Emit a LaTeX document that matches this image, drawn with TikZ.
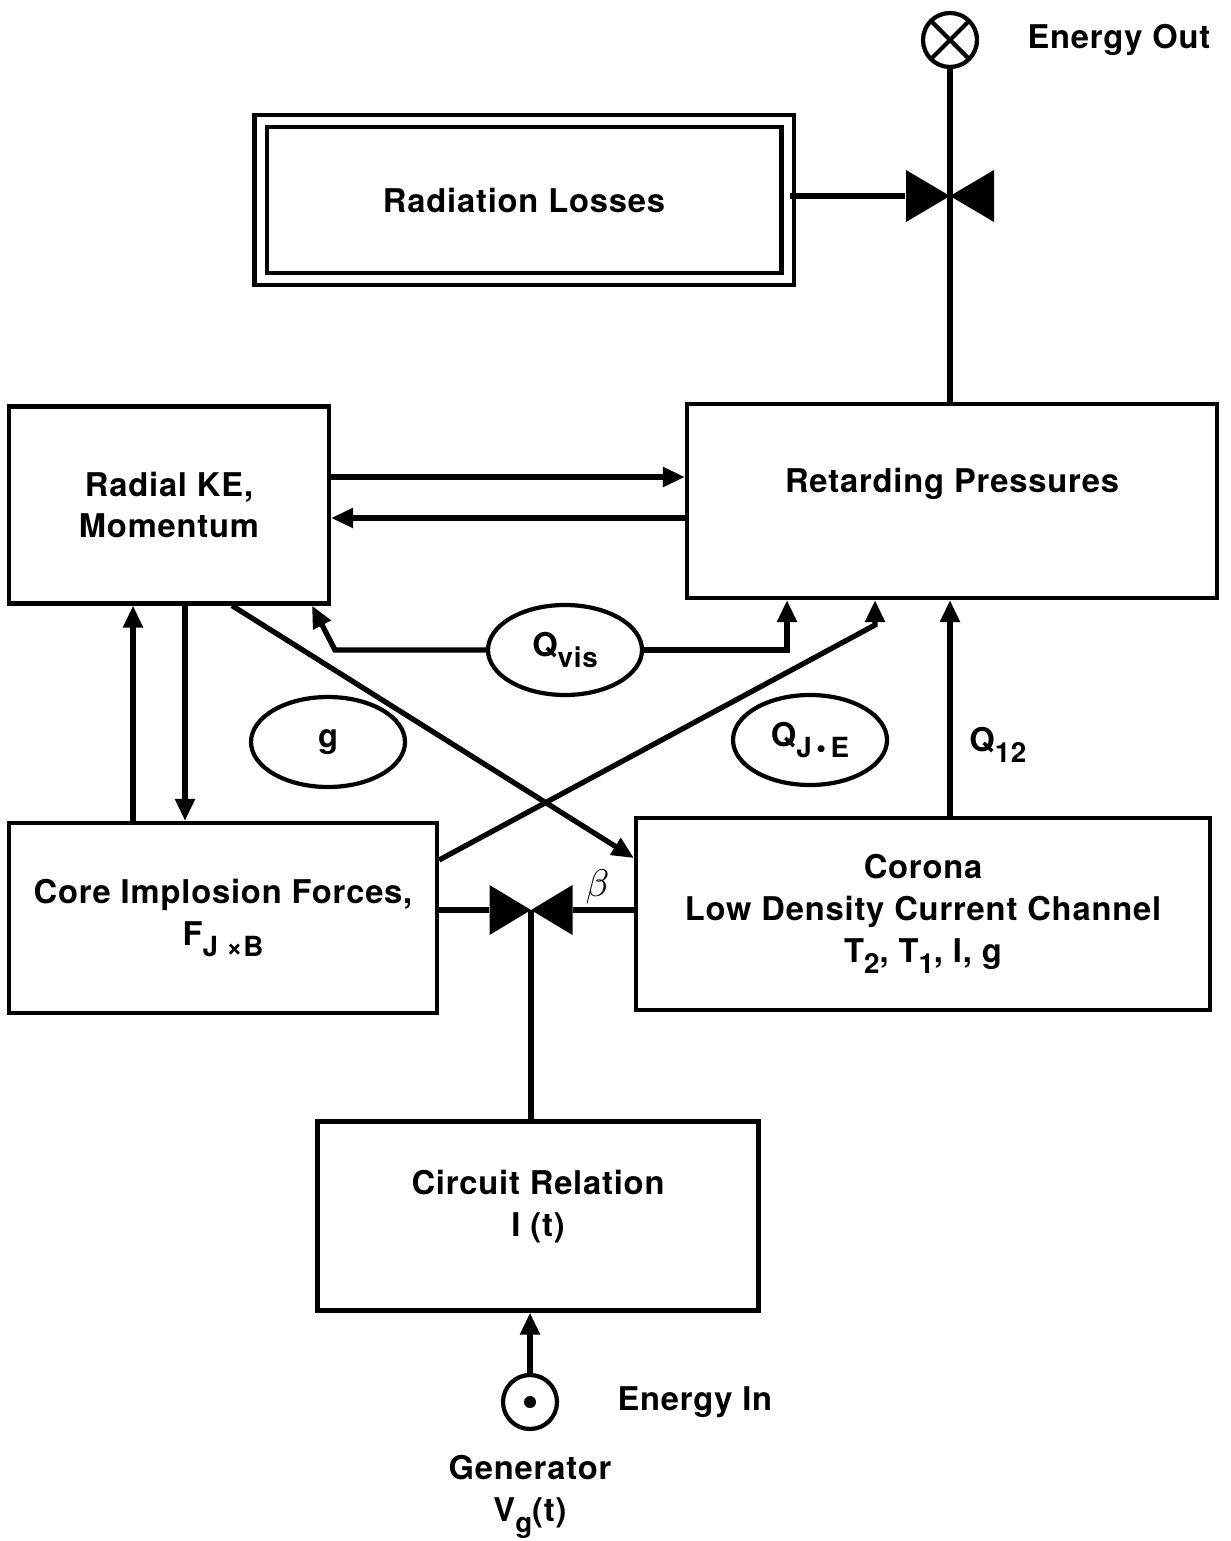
\documentclass[tikz,border=0pt]{standalone}
\usepackage{fontspec}
\setmainfont[LetterSpace=2.5]{TeX Gyre Heros}
\usetikzlibrary{positioning}
\usetikzlibrary{arrows.meta}
\usetikzlibrary{shapes.geometric}

\newcommand{\lowsub}[1]{\raisebox{-3.2pt}{\fontsize{7.9}{7.9}\selectfont #1}}

\begin{document}
\begin{tikzpicture}[
        x=0.1mm, y=-0.1mm,
        every node/.style={font=\bfseries\fontsize{9.3}{11.9}\selectfont, align=center},
        block/.style={rectangle, draw, line width=1.2pt},
        bubble/.style={ellipse, draw, line width=1.2pt, minimum width=15.4mm, minimum height=9mm, inner sep=0pt},
        valve/.style={rectangle, inner sep=0pt, minimum width=8.8mm, minimum height=5.2mm,
            path picture={\fill (path picture bounding box.south west) -- (path picture bounding box.north east)
                -- (path picture bounding box.south east) -- (path picture bounding box.north west) -- cycle;}},
        port/.style={circle, draw, line width=1.2pt, minimum size=5.4mm, inner sep=0pt},
        flow/.style={line width=1.5pt},
        arrow style/.style={-{Triangle[length=2.2mm, width=1.9mm]}, line width=1.5pt}
    ]

    \useasboundingbox (0,0) rectangle (1230,1541);

    % top: losses and energy out
    \node[block, double, double distance=0.8mm, minimum width=52.7mm, minimum height=15.8mm] (rad) at (524,200) {Radiation Losses};
    \node[port, path picture={\draw[line width=1.2pt] (path picture bounding box.south west) -- (path picture bounding box.north east)
        (path picture bounding box.north west) -- (path picture bounding box.south east);}] (eout) at (950,40) {};
    \node[right=3.6mm of eout] (eoutlbl) {Energy Out};
    \node[valve] (vout) at (950,196) {};

    % middle blocks
    \node[block, minimum width=53mm, minimum height=19.4mm] (ret) at (952,501) {Retarding Pressures\\ \mbox{}};
    \node[block, minimum width=32mm, minimum height=19.7mm] (radial) at (169,505) {Radial KE,\\Momentum};
    \node[bubble] (qvis) at (565,650) {Q\lowsub{vis}};
    \node[bubble] (grav) at (328,742) {g};
    \node[bubble] (qje) at (810,740) {Q\lowsub{J\,\textbullet\,E}};
    \node[block, minimum width=42.8mm, minimum height=19mm] (core) at (223,918) {Core Implosion Forces,\\F\lowsub{J ×B}};
    \node[block, minimum width=57.4mm, minimum height=19.2mm] (corona) at (923,914) {Corona\\Low Density Current Channel\\T\lowsub{2}, T\lowsub{1}, I, g};
    \node[valve, minimum width=8.3mm, minimum height=5mm] (vmid) at (531,910) {};

    % bottom: circuit and generator
    \node[block, minimum width=44.1mm, minimum height=18.9mm] (circuit) at (538,1216) {Circuit Relation\\I (t)\\[-1.6mm] \mbox{}};
    \node[port, path picture={\fill (path picture bounding box.center) circle (0.6mm);}] (gen) at (530,1402) {};
    \node[right=4.6mm of gen] (genin) {Energy In};
    \node[below=1.2mm of gen] (genlbl) {Generator\\V\lowsub{g}(t)};

    \draw[flow] (rad.east |- vout) -- (vout.west);
    \draw[flow] (eout.south) -- (eout.south |- ret.north);
    \draw[arrow style] (radial.east |- 0,477) -- (ret.west |- 0,477);
    \draw[arrow style] (ret.west |- 0,518) -- (radial.east |- 0,518);
    \draw[arrow style] (qvis.west) -- (qvis.west -| 335,0) -- (radial.south -| 312,0);
    \draw[arrow style] (qvis.east) -| (ret.south -| 787,0);
    \draw[arrow style] (core.east |- 0,860) -- (875,625) -- (ret.south -| 875,0);
    \draw[arrow style] (radial.south -| 232,0) -- (corona.west |- 0,858);
    \draw[arrow style] (core.north -| 133,0) -- (radial.south -| 133,0);
    \draw[arrow style] (radial.south -| 185,0) -- (core.north -| 185,0);
    \draw[arrow style] (corona.north -| eout) -- node[pos=0.33, right=0.5mm] {Q\lowsub{12}} (ret.south -| eout);

    \draw[flow] (core.east |- vmid) -- (vmid.west);
    \draw[flow] (vmid.east) -- node[pos=0.4, above, inner sep=1pt, font=\fontsize{11}{11}\selectfont] {$\beta$} (corona.west |- vmid);
    \draw[flow] (vmid.center) -- (vmid.center |- circuit.north);
    \draw[arrow style] (gen.north) -- (gen.north |- circuit.south);
\end{tikzpicture}
\end{document}
